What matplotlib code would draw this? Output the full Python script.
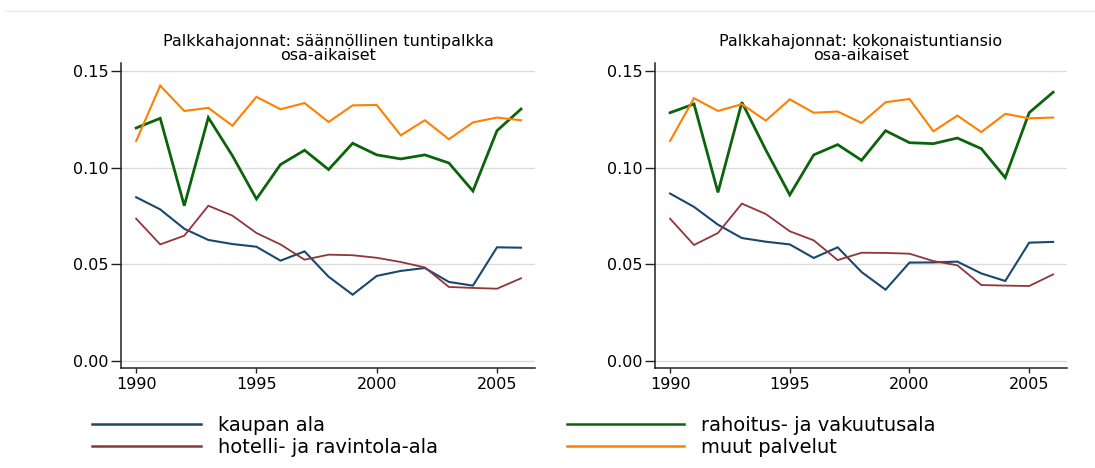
import matplotlib
matplotlib.use("Agg")
import matplotlib.pyplot as plt
from matplotlib.lines import Line2D

years = list(range(1990, 2007))

# Palkkahajonnat: säännöllinen tuntipalkka, osa-aikaiset
tunti_kauppa = [0.0847, 0.0784, 0.0684, 0.0626, 0.0605, 0.0591, 0.0519, 0.0567, 0.0436,
                0.0343, 0.0440, 0.0466, 0.0481, 0.0409, 0.0390, 0.0588, 0.0586]
tunti_hotelli = [0.0736, 0.0603, 0.0648, 0.0803, 0.0752, 0.0662, 0.0603, 0.0524, 0.0550,
                 0.0547, 0.0534, 0.0512, 0.0484, 0.0383, 0.0378, 0.0374, 0.0428]
tunti_rahoitus = [0.1205, 0.1255, 0.0803, 0.1259, 0.1062, 0.0838, 0.1016, 0.1090, 0.0990,
                  0.1126, 0.1066, 0.1045, 0.1066, 0.1024, 0.0879, 0.1191, 0.1303]
tunti_muut = [0.1138, 0.1424, 0.1293, 0.1309, 0.1217, 0.1366, 0.1302, 0.1334, 0.1236,
              0.1322, 0.1324, 0.1167, 0.1245, 0.1147, 0.1234, 0.1259, 0.1245]

# Palkkahajonnat: kokonaistuntiansio, osa-aikaiset
koko_kauppa = [0.0866, 0.0797, 0.0705, 0.0636, 0.0617, 0.0603, 0.0533, 0.0588, 0.0460,
               0.0369, 0.0509, 0.0510, 0.0514, 0.0453, 0.0414, 0.0612, 0.0616]
koko_hotelli = [0.0736, 0.0600, 0.0662, 0.0814, 0.0760, 0.0671, 0.0624, 0.0522, 0.0560,
                0.0559, 0.0555, 0.0517, 0.0495, 0.0393, 0.0390, 0.0388, 0.0448]
koko_rahoitus = [0.1284, 0.1329, 0.0872, 0.1338, 0.1091, 0.0859, 0.1066, 0.1119, 0.1038,
                 0.1191, 0.1129, 0.1124, 0.1153, 0.1098, 0.0948, 0.1284, 0.1390]
koko_muut = [0.1138, 0.1359, 0.1293, 0.1328, 0.1243, 0.1353, 0.1284, 0.1290, 0.1231,
             0.1338, 0.1355, 0.1188, 0.1269, 0.1184, 0.1278, 0.1255, 0.1259]

titles = ["Palkkahajonnat: säännöllinen tuntipalkka\nosa-aikaiset",
          "Palkkahajonnat: kokonaistuntiansio\nosa-aikaiset"]
labels = ["kaupan ala", "hotelli- ja ravintola-ala", "rahoitus- ja vakuutusala", "muut palvelut"]
colors = ["#1a476f", "#90353b", "#0b640b", "#ff7f00"]
widths = [1.5, 1.3, 2.0, 1.5]
yticks = [0.0, 0.05, 0.10, 0.15]
xticks = [1990, 1995, 2000, 2005]

plt.rcParams["font.family"] = ["DejaVu Sans"]

fig = plt.figure(figsize=(10.95, 4.68), dpi=100)
ax1 = fig.add_axes([121 / 1095, 1 - 368 / 468, 414 / 1095, 305 / 468])
ax2 = fig.add_axes([655 / 1095, 1 - 368 / 468, 412 / 1095, 305 / 468])

panels = [(ax1, [tunti_kauppa, tunti_hotelli, tunti_rahoitus, tunti_muut]),
          (ax2, [koko_kauppa, koko_hotelli, koko_rahoitus, koko_muut])]

for (ax, series), title in zip(panels, titles):
    for vals, c, w in zip(series, colors, widths):
        ax.plot(years, vals, color=c, lw=w, solid_joinstyle="miter")
    ax.set_xlim(1989.37, 2006.58)
    ax.set_ylim(-0.0036, 0.1541)
    ax.set_yticks(yticks)
    ax.set_yticklabels(["%.2f" % v for v in yticks])
    ax.set_xticks(xticks)
    ax.grid(axis="y", color="#dcdcdc", lw=1.0)
    ax.set_axisbelow(True)
    for s in ["top", "right"]:
        ax.spines[s].set_visible(False)
    for s in ["left", "bottom"]:
        ax.spines[s].set_color("#222222")
        ax.spines[s].set_linewidth(1.1)
    ax.tick_params(axis="y", length=7, width=1.0, pad=2, labelsize=11.5, color="#222222")
    ax.tick_params(axis="x", length=3.6, width=1.0, pad=3, labelsize=11.5, color="#222222")
    ax.set_title(title, fontsize=11.5, linespacing=0.9, pad=1)

# faint rule left over from the page above
fig.add_artist(Line2D([5 / 1095, 1.0], [1 - 11 / 468] * 2, color="#e4eded", lw=1.0))

handles = [Line2D([], [], color=c, lw=1.8) for c in colors]
fig.legend(handles[:2], labels[:2], loc="upper left", bbox_to_anchor=(92 / 1095, 1 - 416 / 468),
           frameon=False, fontsize=14, handlelength=5.6, handletextpad=0.9,
           labelspacing=0.13, borderpad=0, borderaxespad=0)
fig.legend(handles[2:], labels[2:], loc="upper left", bbox_to_anchor=(567 / 1095, 1 - 416 / 468),
           frameon=False, fontsize=14, handlelength=6.0, handletextpad=0.9,
           labelspacing=0.13, borderpad=0, borderaxespad=0)

fig.savefig("out.png", dpi=100)
